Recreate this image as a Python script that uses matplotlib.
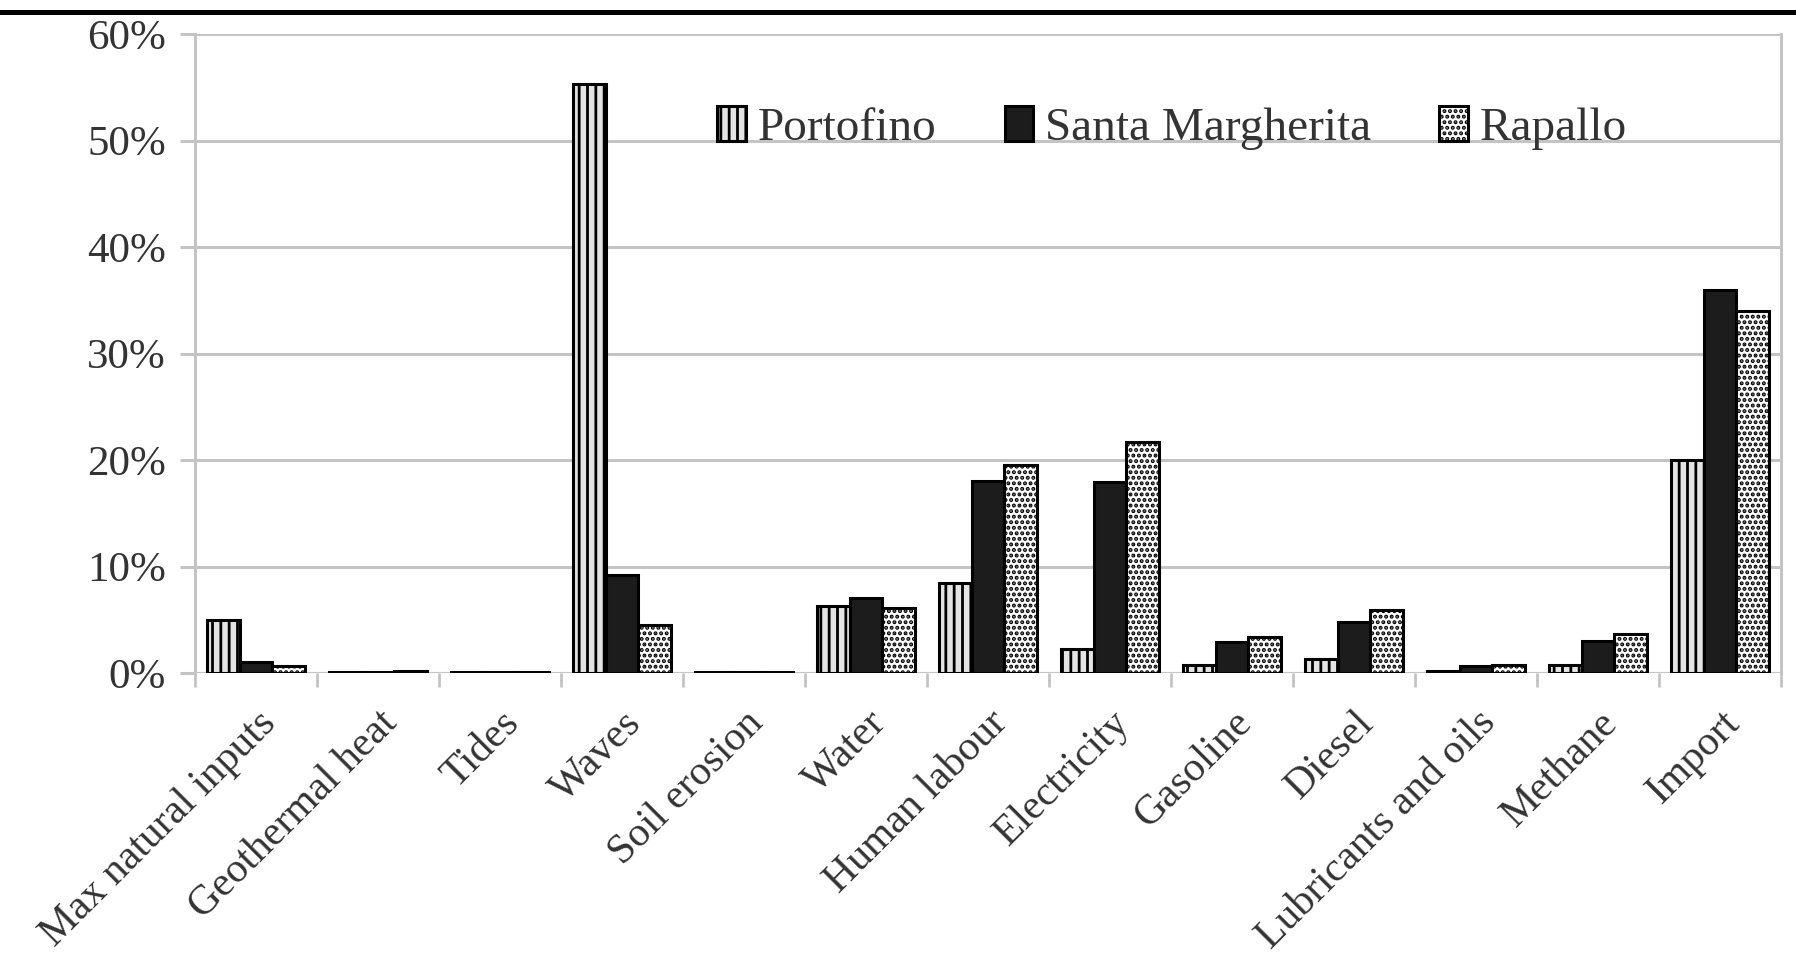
import matplotlib
matplotlib.use("Agg")
import matplotlib.pyplot as plt
import numpy as np
from matplotlib.lines import Line2D
from matplotlib.ticker import FixedLocator, FuncFormatter

# Share of emergy inputs by item, per municipality (%)
categories = ["Max natural inputs", "Geothermal heat", "Tides", "Waves",
              "Soil erosion", "Water", "Human labour", "Electricity",
              "Gasoline", "Diesel", "Lubricants and oils", "Methane", "Import"]
portofino = [5.0, 0.1, 0.05, 55.3, 0.05, 6.3, 8.5, 2.3, 0.8, 1.3, 0.2, 0.8, 20.0]
santa_margherita = [1.0, 0.1, 0.05, 9.2, 0.05, 7.0, 18.0, 17.9, 2.9, 4.8, 0.7, 3.0, 36.0]
rapallo = [0.7, 0.15, 0.05, 4.5, 0.05, 6.1, 19.5, 21.7, 3.4, 5.9, 0.8, 3.7, 34.0]
series_names = ["Portofino", "Santa Margherita", "Rapallo"]
y_ticks = [0, 10, 20, 30, 40, 50, 60]

plt.rcParams["font.family"] = ["Liberation Serif", "DejaVu Serif"]
plt.rcParams["hatch.linewidth"] = 2.0
plt.rcParams["hatch.color"] = "black"

GRID = "#c4c4c4"
TEXT = "#333333"

fig = plt.figure(figsize=(17.96, 9.73), dpi=100)
ax = fig.add_axes([0.1086, 0.3083, 0.8830, 0.6567])

n = len(categories)
centers = np.arange(n) + 0.5
bw = 0.8 / 3
styles = [
    dict(facecolor="#e4e4e4", hatch="||"),
    dict(facecolor="#1c1c1c", hatch=None),
    dict(facecolor="white", hatch="..."),
]
for k, (vals, name, st) in enumerate(zip([portofino, santa_margherita, rapallo],
                                         series_names, styles)):
    ax.bar(centers + (k - 1) * bw, vals, width=bw, label=name,
           facecolor=st["facecolor"], hatch=st["hatch"],
           edgecolor="black", linewidth=2.2, zorder=3)

ax.set_xlim(0, n)
ax.set_ylim(0, 60)

# Gridlines and axes
ax.yaxis.set_major_locator(FixedLocator(y_ticks))
ax.yaxis.set_major_formatter(FuncFormatter(lambda v, p: f"{v:.0f}%"))
ax.grid(axis="y", color=GRID, linewidth=2.2, zorder=0)
ax.set_axisbelow(True)

for side in ["top", "bottom"]:
    ax.spines[side].set_visible(False)
for side in ["left", "right"]:
    ax.spines[side].set_color(GRID)
    ax.spines[side].set_linewidth(2.2)

# Category separators as major ticks, labels on minor ticks at centres
ax.xaxis.set_major_locator(FixedLocator(np.arange(n + 1)))
ax.xaxis.set_major_formatter(FuncFormatter(lambda v, p: ""))
ax.xaxis.set_minor_locator(FixedLocator(centers))
ax.set_xticklabels(categories, minor=True)
ax.tick_params(axis="x", which="major", direction="out", length=10,
               width=2.0, color=GRID)
ax.tick_params(axis="x", which="minor", length=0, pad=22,
               labelsize=30, labelcolor=TEXT)
for lab in ax.get_xticklabels(minor=True):
    lab.set_rotation(45)
    lab.set_ha("right")
    lab.set_va("top")
    lab.set_rotation_mode("anchor")

ax.tick_params(axis="y", direction="out", length=11, width=2.2, color=GRID,
               pad=10, labelsize=31, labelcolor=TEXT)

ax.axhline(0, color=GRID, linewidth=2.2, zorder=1)

leg = ax.legend(loc="center", bbox_to_anchor=(0.616, 0.853), ncol=3,
                frameon=False, fontsize=34, handlelength=0.6,
                handleheight=0.75, handletextpad=0.25, columnspacing=1.45,
                borderaxespad=0)
for t in leg.get_texts():
    t.set_color(TEXT)

# Heavy rule across the top of the figure
fig.add_artist(Line2D([0, 1], [1 - 11.5 / 973, 1 - 11.5 / 973],
                      transform=fig.transFigure, color="black", linewidth=3.6))

fig.savefig("out.png", dpi=100, facecolor="white")
